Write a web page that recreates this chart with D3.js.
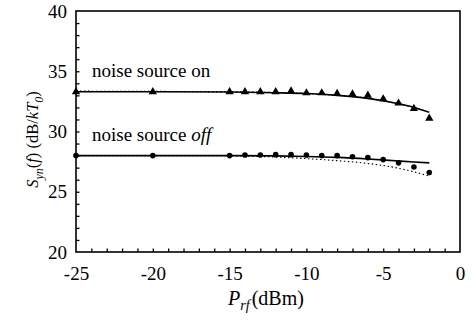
<!DOCTYPE html>
<html>
<head>
<meta charset="utf-8">
<script src="https://cdn.jsdelivr.net/npm/d3@7"></script>
<style>
  html, body { margin: 0; padding: 0; background: #fff; }
  svg { display: block; }
</style>
</head>
<body>
<svg id="chart" width="475" height="328"></svg>
<script>
// measured points (dBm / dB/kT0)
const pPoints = [-25, -20, -15, -14, -13, -12, -11, -10, -9, -8, -7, -6, -5, -4, -3, -2];
const onPoints = [33.3, 33.3, 33.3, 33.3, 33.3, 33.3, 33.35, 33.2, 33.2, 33.15, 33.1, 33.0, 32.7, 32.35, 31.9, 31.1];
const offPoints = [28.0, 28.0, 28.0, 28.05, 28.05, 28.08, 28.08, 28.05, 28.0, 28.0, 27.9, 27.83, 27.67, 27.4, 27.05, 26.6];

// model curves
const pCurve = [-25, -20, -15, -12, -10, -8, -6, -4, -3, -2];
const onSolid = [33.3, 33.3, 33.28, 33.22, 33.15, 33.0, 32.75, 32.3, 32.0, 31.6];
const onDotted = [33.35, 33.33, 33.3, 33.23, 33.15, 33.0, 32.75, 32.3, 32.0, 31.6];
const offSolid = [28.0, 28.0, 28.0, 27.98, 27.93, 27.85, 27.72, 27.55, 27.47, 27.4];
const offDotted = [28.0, 28.0, 27.98, 27.88, 27.75, 27.58, 27.35, 26.95, 26.65, 26.3];

const xTickLabels = [-25, -20, -15, -10, -5, 0];
const yTickLabels = [20, 25, 30, 35, 40];

const margin = { left: 76, right: 15, top: 11, bottom: 76 };
const width = 475, height = 328;
const serif = '"Liberation Serif", "Times New Roman", serif';

const svg = d3.select('#chart');

const x = d3.scaleLinear().domain([-25, 0]).range([margin.left, width - margin.right]);
const y = d3.scaleLinear().domain([20, 40]).range([height - margin.bottom, margin.top]);

// minor ticks, pointing inward
svg.append('g')
  .attr('transform', `translate(0,${y(20)})`)
  .call(d3.axisTop(x).tickValues(d3.range(-24, 0, 1)).tickSize(3.5).tickFormat(''))
  .call(g => g.select('.domain').remove())
  .call(g => g.selectAll('line').attr('stroke', '#000').attr('stroke-width', 1.3));

svg.append('g')
  .attr('transform', `translate(${x(-25)},0)`)
  .call(d3.axisRight(y).tickValues(d3.range(21, 40, 1)).tickSize(3.5).tickFormat(''))
  .call(g => g.select('.domain').remove())
  .call(g => g.selectAll('line').attr('stroke', '#000').attr('stroke-width', 1.3));

// tick labels (plain hyphen, as in the original)
svg.append('g')
  .attr('transform', `translate(0,${y(20)})`)
  .call(d3.axisBottom(x).tickValues(xTickLabels).tickSize(0).tickPadding(15).tickFormat(d => String(d)))
  .call(g => g.select('.domain').remove())
  .call(g => g.attr('font-family', null).selectAll('text').attr('font-size', 19));

svg.append('g')
  .attr('transform', `translate(${x(-25)},0)`)
  .call(d3.axisLeft(y).tickValues(yTickLabels).tickSize(0).tickPadding(9).tickFormat(d => String(d)))
  .call(g => g.select('.domain').remove())
  .call(g => g.attr('font-family', null).selectAll('text').attr('font-size', 19));

// frame
svg.append('rect')
  .attr('x', x(-25)).attr('y', y(40))
  .attr('width', x(0) - x(-25)).attr('height', y(20) - y(40))
  .attr('fill', 'none').attr('stroke', '#000').attr('stroke-width', 1.6);

// curves
const line = d3.line().x(d => x(d[0])).y(d => y(d[1])).curve(d3.curveMonotoneX);
const curves = [
  { vals: onDotted, dash: '1.5,2.5', w: 1.1 },
  { vals: offDotted, dash: '1.5,2.5', w: 1.1 },
  { vals: onSolid, dash: null, w: 1.6 },
  { vals: offSolid, dash: null, w: 1.6 }
];
curves.forEach(c => {
  svg.append('path')
    .datum(pCurve.map((p, i) => [p, c.vals[i]]))
    .attr('d', line)
    .attr('fill', 'none')
    .attr('stroke', '#000')
    .attr('stroke-width', c.w)
    .attr('stroke-dasharray', c.dash);
});

// markers
svg.append('g').selectAll('path')
  .data(pPoints.map((p, i) => [p, onPoints[i]]))
  .join('path')
  .attr('transform', d => `translate(${x(d[0])},${y(d[1])})`)
  .attr('d', d3.symbol(d3.symbolTriangle, 30))
  .attr('fill', '#000');

svg.append('g').selectAll('circle')
  .data(pPoints.map((p, i) => [p, offPoints[i]]))
  .join('circle')
  .attr('cx', d => x(d[0]))
  .attr('cy', d => y(d[1]))
  .attr('r', 2.8)
  .attr('fill', '#000');

// annotations
svg.append('text')
  .attr('x', 92).attr('y', 77)
  .attr('font-size', 19)
  .text('noise source on');

const offLabel = svg.append('text')
  .attr('x', 92).attr('y', 141)
  .attr('font-size', 19);
offLabel.append('tspan').text('noise source ');
offLabel.append('tspan').attr('font-style', 'italic').text('off');

// x axis title
const xt = svg.append('text')
  .attr('x', 266).attr('y', 305)
  .attr('text-anchor', 'middle')
  .attr('font-size', 20);
xt.append('tspan').attr('font-style', 'italic').text('P');
xt.append('tspan').attr('font-style', 'italic').attr('font-size', 14).attr('dy', 5).text('rf');
xt.append('tspan').attr('dy', -5).attr('dx', 2).text('(dBm)');

// y axis title
const yt = svg.append('text')
  .attr('transform', `translate(38,${(y(20) + y(40)) / 2 + 8}) rotate(-90)`)
  .attr('text-anchor', 'middle')
  .attr('font-size', 16.5);
yt.append('tspan').attr('font-style', 'italic').text('S');
yt.append('tspan').attr('font-style', 'italic').attr('font-size', 12).attr('dy', 5).text('yn');
yt.append('tspan').attr('dy', -5).text('(');
yt.append('tspan').attr('font-style', 'italic').text('f');
yt.append('tspan').text(') (dB/');
yt.append('tspan').attr('font-style', 'italic').text('kT');
yt.append('tspan').attr('font-style', 'italic').attr('font-size', 12).attr('dy', 5).text('0');
yt.append('tspan').attr('dy', -5).text(')');

svg.selectAll('text').attr('font-family', serif);
</script>
</body>
</html>
